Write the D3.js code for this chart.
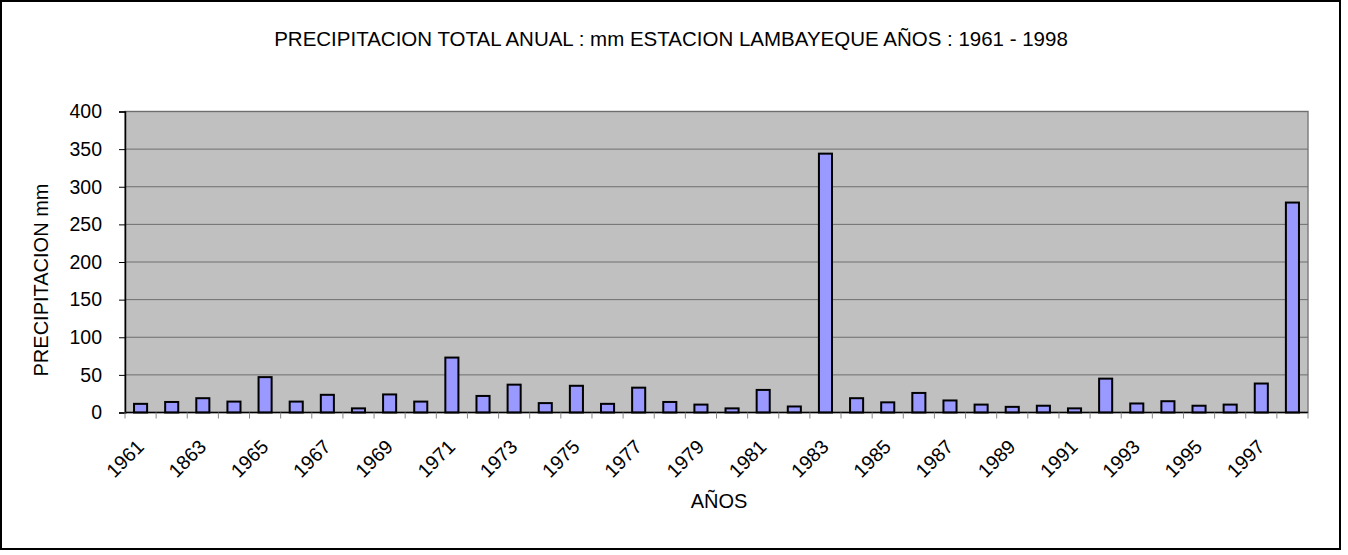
<!DOCTYPE html>
<html>
<head>
<meta charset="utf-8">
<script src="https://cdn.jsdelivr.net/npm/d3@7"></script>
<style>
  html, body { margin: 0; padding: 0; background: #fff; }
  svg { display: block; font-family: "Liberation Sans", Arial, sans-serif; }
</style>
</head>
<body>
<svg id="chart" width="1348" height="555"></svg>
<script>
// Annual precipitation, Lambayeque station
const years = [1961,1962,1963,1964,1965,1966,1967,1968,1969,1970,1971,1972,1973,1974,1975,1976,1977,1978,1979,
               1980,1981,1982,1983,1984,1985,1986,1987,1988,1989,1990,1991,1992,1993,1994,1995,1996,1997,1998];
const precipitation = [11.5,14,19,14.5,47,14.5,23.5,5.5,24,14.5,73,22,37,12.5,35.5,11.5,33,14,10.5,
                       5.5,30,8,344,19,13.5,26,16,10.5,7.5,9,5.5,45,12,15,9,10.5,38.5,279];
// Category labels printed on the axis (every other year)
const tickYears  = [1961,1963,1965,1967,1969,1971,1973,1975,1977,1979,1981,1983,1985,1987,1989,1991,1993,1995,1997];
const tickLabels = ["1961","1863","1965","1967","1969","1971","1973","1975","1977","1979","1981","1983","1985","1987","1989","1991","1993","1995","1997"];
const yTicks = [0,50,100,150,200,250,300,350,400];

const title = "PRECIPITACION TOTAL ANUAL : mm ESTACION LAMBAYEQUE AÑOS  : 1961 - 1998";
const yTitle = "PRECIPITACION mm";
const xTitle = "AÑOS";

const svg = d3.select("#chart");
const plot = {left: 125, right: 1308, top: 111.5, bottom: 412.5};

// outer frame
svg.append("rect").attr("x", 1).attr("y", 1).attr("width", 1339).attr("height", 548)
  .attr("fill", "#fff").attr("stroke", "#000").attr("stroke-width", 2);

const x = d3.scaleBand().domain(years).range([plot.left, plot.right]).padding(0);
const y = d3.scaleLinear().domain([0, 400]).range([plot.bottom, plot.top]);

// plot area background
svg.append("rect").attr("x", plot.left).attr("y", plot.top)
  .attr("width", plot.right - plot.left).attr("height", plot.bottom - plot.top)
  .attr("fill", "#c0c0c0").attr("stroke", "#808080").attr("stroke-width", 1.5);

// horizontal gridlines
svg.append("g").selectAll("line").data(yTicks.filter(d => d > 0)).join("line")
  .attr("x1", plot.left).attr("x2", plot.right)
  .attr("y1", d => y(d)).attr("y2", d => y(d))
  .attr("stroke", "#6e6e6e").attr("stroke-width", 1);

// y axis
const yAxis = d3.axisLeft(y).tickValues(yTicks).tickSize(6).tickPadding(17).tickFormat(d3.format("d"));
const gy = svg.append("g").attr("transform", `translate(${plot.left},0)`).call(yAxis);
gy.select(".domain").attr("stroke", "#000").attr("stroke-width", 1.5);
gy.selectAll(".tick line").attr("stroke", "#000");
gy.selectAll(".tick text").attr("font-size", 19.5).attr("fill", "#000")
  .attr("font-family", "'Liberation Sans', Arial, sans-serif");

// bars
const barW = x.bandwidth() * 0.42;
svg.append("g").selectAll("rect").data(years).join("rect")
  .attr("x", d => x(d) + (x.bandwidth() - barW) / 2)
  .attr("width", barW)
  .attr("y", (d, i) => y(precipitation[i]))
  .attr("height", (d, i) => plot.bottom - y(precipitation[i]))
  .attr("fill", "#9999ff").attr("stroke", "#000").attr("stroke-width", 2);

// x axis: line, tick marks at category boundaries, rotated labels
const gx = svg.append("g");
gx.append("line").attr("x1", plot.left).attr("x2", plot.right)
  .attr("y1", plot.bottom).attr("y2", plot.bottom)
  .attr("stroke", "#000").attr("stroke-width", 1.5);
const bounds = years.map(d => x(d)).concat([plot.right]);
gx.selectAll("line.tk").data(bounds).join("line").attr("class", "tk")
  .attr("x1", d => d).attr("x2", d => d)
  .attr("y1", plot.bottom).attr("y2", plot.bottom + 6)
  .attr("stroke", "#888").attr("stroke-width", 1);
gx.selectAll("text").data(tickYears).join("text")
  .attr("transform", d => `translate(${x(d) + x.bandwidth() / 2 + 4.5},${plot.bottom + 35.5}) rotate(-45)`)
  .attr("text-anchor", "end")
  .attr("font-size", 19.5).attr("fill", "#000")
  .text((d, i) => tickLabels[i]);

// titles
svg.append("text").attr("x", 671).attr("y", 46).attr("text-anchor", "middle")
  .attr("font-size", 20.5).attr("fill", "#000").text(title);
svg.append("text").attr("transform", `translate(48,280) rotate(-90)`)
  .attr("text-anchor", "middle").attr("font-size", 20).attr("fill", "#000").text(yTitle);
svg.append("text").attr("x", 719).attr("y", 508).attr("text-anchor", "middle")
  .attr("font-size", 20).attr("fill", "#000").text(xTitle);
</script>
</body>
</html>
